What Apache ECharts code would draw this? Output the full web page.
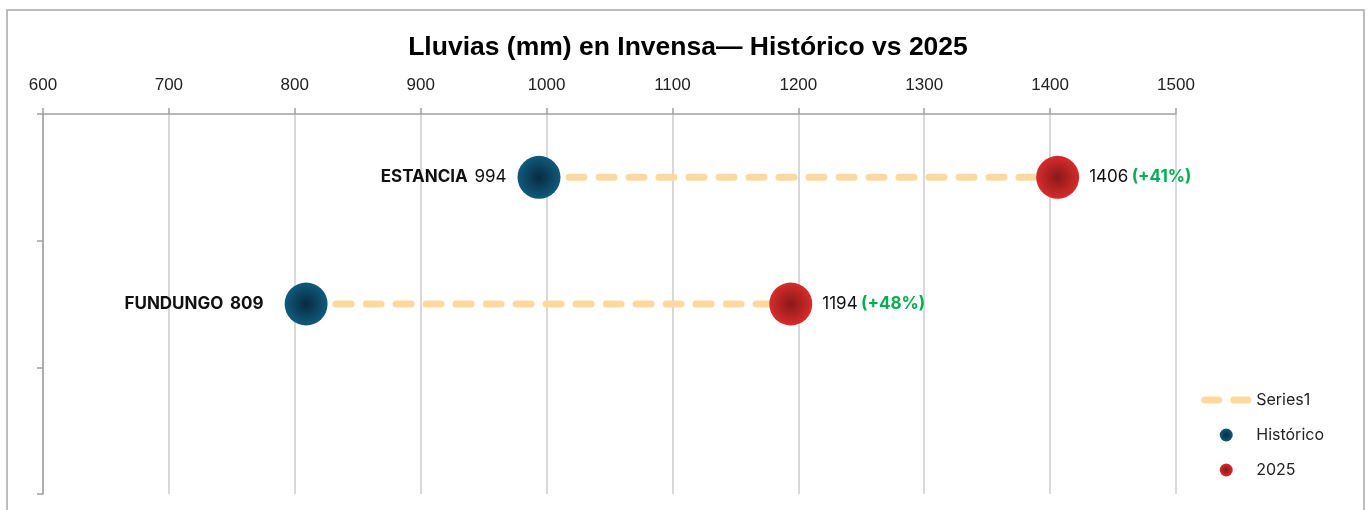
<!DOCTYPE html>
<html>
<head>
<meta charset="utf-8">
<script src="https://cdn.jsdelivr.net/npm/echarts@6/dist/echarts.min.js"></script>
<style>
  html, body { margin: 0; padding: 0; background: #fff; }
  #chart { width: 1369px; height: 510px; }
</style>
</head>
<body>
<div id="chart"></div>
<script>
// datos
const categorias = ['ESTANCIA', 'FUNDUNGO'];
const historico = [994, 809];
const lluvia2025 = [1406, 1194];
const filaY = [2.5, 1.5]; // posición de cada categoría en el eje vertical
const ticksX = [600, 700, 800, 900, 1000, 1100, 1200, 1300, 1400, 1500];

const fuente = 'Liberation Sans Narrow, Arial Narrow, Liberation Sans, sans-serif';
const fuenteTxt = 'Inter, Noto Sans, sans-serif';

function bola(centro, borde) {
  return {
    type: 'radial', x: 0.5, y: 0.5, r: 0.5,
    colorStops: [{ offset: 0, color: centro }, { offset: 1, color: borde }]
  };
}
const colorHist = bola('#072b3f', '#105a7c');
const color2025 = bola('#8a1818', '#d62c2c');

// icono de leyenda: dos trazos redondeados (los M iniciales fijan la caja 50x13)
const iconoSerie = 'path://M0,0M50,13M3.5,3H17.5A3.5,3.5 0 0 1 17.5,10H3.5A3.5,3.5 0 0 1 3.5,3Z' +
  'M32.5,3H46.5A3.5,3.5 0 0 1 46.5,10H32.5A3.5,3.5 0 0 1 32.5,3Z';

const lineas = categorias.map((c, i) => ({
  name: 'Series1',
  type: 'line',
  data: [[historico[i], filaY[i]], [lluvia2025[i], filaY[i]]],
  symbol: 'none',
  z: 1,
  lineStyle: { color: '#fdd9a0', width: 7, type: [15, 15], cap: 'round' },
  itemStyle: { color: '#fdd9a0' }
}));

const option = {
  animation: false,
  title: {
    text: 'Lluvias (mm) en Invensa— Histórico vs 2025',
    left: 683, top: 29, textAlign: 'center',
    textStyle: { fontFamily: fuente, fontWeight: 'bold', fontSize: 26.5, color: '#000' }
  },
  graphic: [{
    type: 'rect', silent: true, z: -1,
    shape: { x: 7, y: 10, width: 1357, height: 520 },
    style: { fill: 'none', stroke: '#a6a6a6', lineWidth: 1.5 }
  }],
  legend: {
    right: 40, top: 387, orient: 'vertical',
    itemWidth: 50, itemHeight: 13, itemGap: 19,
    textStyle: { fontFamily: fuenteTxt, fontSize: 16, color: '#222' },
    data: [
      { name: 'Series1', icon: iconoSerie, itemStyle: { color: '#fdd9a0' } },
      { name: 'Histórico', icon: 'circle' },
      { name: '2025', icon: 'circle' }
    ]
  },
  grid: { left: 43, right: 193, top: 114, bottom: 16 },
  xAxis: {
    type: 'value', position: 'top',
    min: 600, max: 1500, interval: 100,
    axisLine: { show: true, onZero: false, lineStyle: { color: '#a0a0a0', width: 1.5 } },
    axisTick: { show: true, length: 6, lineStyle: { color: '#a0a0a0', width: 1.5 } },
    axisLabel: {
      margin: 20, fontFamily: fuente, fontSize: 17, color: '#222',
      formatter: v => ticksX.includes(v) ? String(v) : ''
    },
    splitLine: { show: true, lineStyle: { color: '#cccccc', width: 1.5 } }
  },
  yAxis: {
    type: 'value', min: 0, max: 3, interval: 1,
    axisLine: { show: true, onZero: false, lineStyle: { color: '#a0a0a0', width: 1.5 } },
    axisTick: { show: true, length: 6, lineStyle: { color: '#a0a0a0', width: 1.5 } },
    axisLabel: { show: false },
    splitLine: { show: false }
  },
  series: lineas.concat([
    {
      name: 'Histórico',
      type: 'scatter',
      symbolSize: 43,
      z: 3,
      itemStyle: { color: colorHist, opacity: 1 },
      data: historico.map((v, i) => ({
        value: [v, filaY[i]],
        label: { distance: i === 0 ? 11 : 21 }
      })),
      label: {
        show: true, position: 'left',
        formatter: p => {
          const i = p.dataIndex;
          const num = i === 0 ? 'n' : 'b';
          return '{b|' + categorias[i] + '}  {' + num + '|' + historico[i] + '}';
        },
        rich: {
          b: { fontFamily: fuenteTxt, fontWeight: 'bold', fontSize: 17, color: '#111' },
          n: { fontFamily: fuenteTxt, fontSize: 17, color: '#111' }
        }
      }
    },
    {
      name: '2025',
      type: 'scatter',
      symbolSize: 43,
      z: 3,
      itemStyle: { color: color2025, opacity: 1 },
      data: lluvia2025.map((v, i) => [v, filaY[i]]),
      label: {
        show: true, position: 'right', distance: 10,
        formatter: p => {
          const i = p.dataIndex;
          const pct = Math.round((lluvia2025[i] / historico[i] - 1) * 100);
          return '{n|' + lluvia2025[i] + '} {g|(+' + pct + '%)}';
        },
        rich: {
          n: { fontFamily: fuenteTxt, fontSize: 17, color: '#111' },
          g: { fontFamily: fuenteTxt, fontWeight: 'bold', fontSize: 17, color: '#00b050' }
        }
      }
    }
  ])
};

const chart = echarts.init(document.getElementById('chart'));
chart.setOption(option);
window.addEventListener('resize', () => chart.resize());
</script>
</body>
</html>
